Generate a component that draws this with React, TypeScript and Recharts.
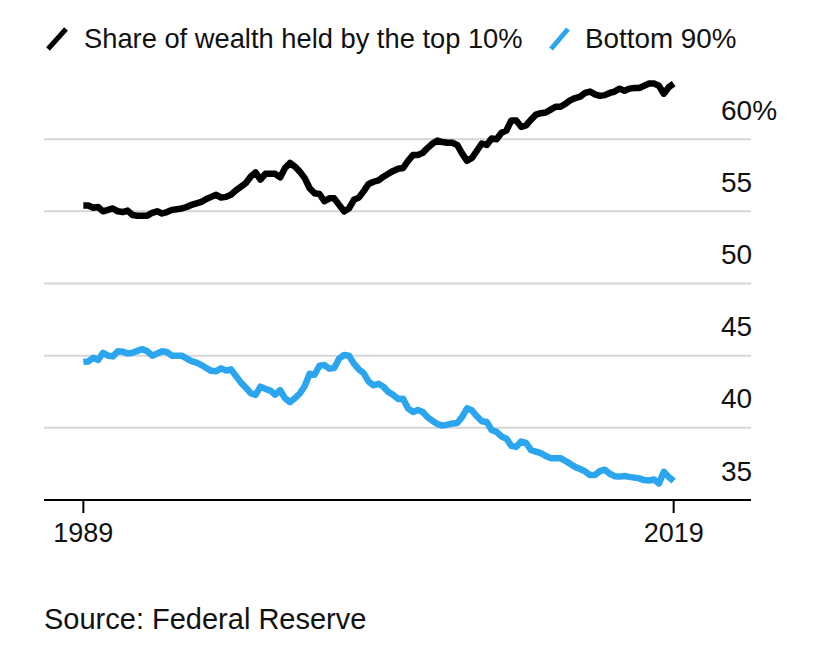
import { LineChart, Line, XAxis, YAxis, CartesianGrid } from 'recharts';

const START_YEAR = 1989;
const yearTicks = [1989, 2019];
const valueTicks = [35, 40, 45, 50, 55, 60];
const gridValues = [40, 45, 50, 55, 60];

// quarterly shares of household wealth (%), 1989 through 2019
const top10 = [
  55.4, 55.4, 55.25, 55.3, 55.0, 55.1, 55.2, 55.0, 54.95, 55.05,
  54.75, 54.7, 54.7, 54.7, 54.9, 55.0, 54.85, 54.95, 55.1, 55.15,
  55.2, 55.3, 55.45, 55.55, 55.65, 55.85, 56.0, 56.15, 55.95, 56.0,
  56.15, 56.45, 56.7, 56.95, 57.4, 57.7, 57.2, 57.6, 57.6, 57.6,
  57.35, 58.0, 58.35, 58.1, 57.75, 57.3, 56.6, 56.25, 56.2, 55.7,
  55.9, 55.9, 55.45, 55.0, 55.2, 55.8, 55.95, 56.4, 56.9, 57.05,
  57.15, 57.4, 57.6, 57.8, 57.95, 58.0, 58.5, 58.9, 58.9, 59.05,
  59.4, 59.7, 59.9, 59.8, 59.75, 59.75, 59.6, 59.0, 58.5, 58.7,
  59.2, 59.7, 59.6, 60.05, 60.0, 60.45, 60.6, 61.3, 61.3, 60.85,
  60.95, 61.35, 61.7, 61.8, 61.85, 62.05, 62.25, 62.25, 62.45, 62.7,
  62.85, 62.95, 63.2, 63.3, 63.1, 63.0, 63.05, 63.2, 63.3, 63.5,
  63.35, 63.5, 63.55, 63.55, 63.7, 63.85, 63.85, 63.7, 63.15, 63.6,
  63.85,
];

const bottom90 = [
  44.57, 44.6, 44.85, 44.7, 45.2, 45.0, 44.95, 45.3, 45.28, 45.15,
  45.2, 45.33, 45.45, 45.3, 45.0, 45.15, 45.3, 45.25, 45.0, 45.0,
  45.0, 44.8, 44.62, 44.52, 44.35, 44.15, 43.95, 43.92, 44.12, 43.97,
  44.05, 43.6, 43.15, 42.8, 42.4, 42.28, 42.85, 42.7, 42.58, 42.3,
  42.6, 42.05, 41.78, 42.05, 42.38, 42.9, 43.75, 43.68, 44.3, 44.35,
  44.1, 44.15, 44.8, 45.05, 45.0, 44.45, 44.05, 43.78, 43.2, 42.95,
  43.05, 42.85, 42.48, 42.28, 42.0, 42.02, 41.35, 41.1, 41.23, 41.1,
  40.72, 40.48, 40.26, 40.15, 40.22, 40.3, 40.34, 40.76, 41.35, 41.2,
  40.8, 40.45, 40.4, 39.85, 39.72, 39.4, 39.25, 38.75, 38.68, 39.05,
  38.95, 38.45, 38.35, 38.25, 38.05, 37.9, 37.9, 37.9, 37.7, 37.5,
  37.28, 37.15, 36.98, 36.73, 36.73, 37.0, 37.1, 36.82, 36.65, 36.62,
  36.66, 36.6, 36.55, 36.5, 36.38, 36.35, 36.42, 36.15, 36.95, 36.6,
  36.32,
];

const data = top10.map((v, i) => ({
  t: START_YEAR + i / 4,
  top10: v,
  bottom90: bottom90[i],
}));

const FONT = '"Liberation Sans", Arial, Helvetica, sans-serif';
const BLUE = '#2ba6ee';

const YTick = ({ y, payload }: any) => (
  <text x={721} y={y - 19.5} fontSize={28} fill="#111" fontFamily={FONT} textAnchor="start">
    {payload.value}
    {payload.value === 60 ? '%' : ''}
  </text>
);

const XTick = ({ x, payload }: any) => (
  <text x={x} y={542} fontSize={27} fill="#111" fontFamily={FONT} textAnchor="middle">
    {payload.value}
  </text>
);

export default function App() {
  return (
    <div style={{ position: 'relative', width: 825, height: 648, background: '#fff', fontFamily: FONT }}>
      <style>{'body{margin:0}'}</style>

      <LineChart width={825} height={648} data={data} margin={{ top: 67, right: 0, bottom: 88, left: 44 }}>
        <CartesianGrid vertical={false} horizontalValues={gridValues} stroke="#d6d6d6" strokeWidth={2} />
        <XAxis
          dataKey="t"
          type="number"
          domain={[1987, 2022.93]}
          ticks={yearTicks}
          height={60}
          axisLine={{ stroke: '#000', strokeWidth: 2 }}
          tickLine={{ stroke: '#000', strokeWidth: 2 }}
          tickSize={13}
          tick={<XTick />}
          allowDataOverflow
        />
        <YAxis
          orientation="right"
          type="number"
          domain={[35, 65]}
          ticks={valueTicks}
          width={74}
          axisLine={false}
          tickLine={false}
          tick={<YTick />}
          allowDataOverflow
        />
        <Line
          type="linear"
          dataKey="top10"
          stroke="#000"
          strokeWidth={6.5}
          strokeLinejoin="round"
          dot={false}
          isAnimationActive={false}
        />
        <Line
          type="linear"
          dataKey="bottom90"
          stroke={BLUE}
          strokeWidth={6.5}
          strokeLinejoin="round"
          dot={false}
          isAnimationActive={false}
        />
      </LineChart>

      {/* legend and source line */}
      <svg width={825} height={648} style={{ position: 'absolute', left: 0, top: 0, pointerEvents: 'none' }}>
        <line x1={48} y1={49} x2={66} y2={29} stroke="#000" strokeWidth={5} />
        <text x={84} y={48} fontSize={27.3} fill="#111" fontFamily={FONT}>
          Share of wealth held by the top 10%
        </text>
        <line x1={551} y1={49} x2={568} y2={29} stroke={BLUE} strokeWidth={5} />
        <text x={585} y={48} fontSize={27.8} fill="#111" fontFamily={FONT}>
          Bottom 90%
        </text>
        <text x={44} y={629} fontSize={29} fill="#111" fontFamily={FONT}>
          Source: Federal Reserve
        </text>
      </svg>
    </div>
  );
}
